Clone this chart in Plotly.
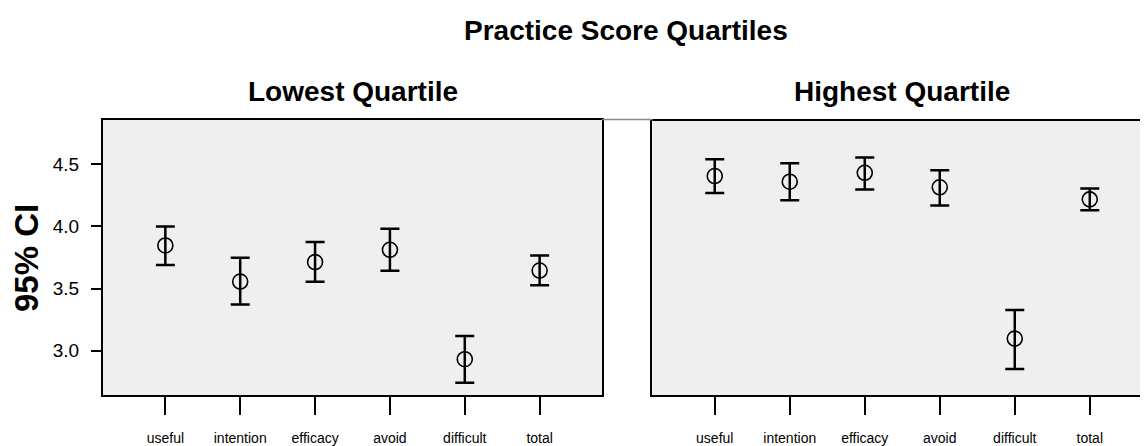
import plotly.graph_objects as go

categories = ["useful", "intention", "efficacy", "avoid", "difficult", "total"]

low_mean = [3.847, 3.556, 3.713, 3.812, 2.931, 3.645]
low_upper = [4.000, 3.748, 3.874, 3.981, 3.119, 3.766]
low_lower = [3.690, 3.371, 3.554, 3.643, 2.742, 3.527]

high_mean = [4.406, 4.360, 4.432, 4.315, 3.097, 4.218]
high_upper = [4.540, 4.508, 4.556, 4.452, 3.328, 4.306]
high_lower = [4.269, 4.210, 4.298, 4.169, 2.852, 4.131]

y_ticks = [3.0, 3.5, 4.0, 4.5]
y_tick_text = ["3.0", "3.5", "4.0", "4.5"]

FONT = "Liberation Sans, Arial, sans-serif"

fig = go.Figure()

def add_panel(mean, upper, lower, xa, ya):
    xs = list(range(len(categories)))
    fig.add_trace(go.Scatter(
        x=xs, y=mean, mode="markers", xaxis=xa, yaxis=ya,
        marker=dict(symbol="circle-open", size=15, color="black", line=dict(width=1.6, color="black")),
        error_y=dict(type="data", symmetric=False,
                     array=[u - m for u, m in zip(upper, mean)],
                     arrayminus=[m - l for m, l in zip(mean, lower)],
                     color="black", thickness=2.5, width=9.5),
        showlegend=False, hoverinfo="skip"))

add_panel(low_mean, low_upper, low_lower, "x", "y")
add_panel(high_mean, high_upper, high_lower, "x2", "y2")

yr = [2.643, 4.857]
common_x = dict(tickmode="array", tickvals=list(range(len(categories))), ticktext=categories,
                ticks="outside", ticklen=18, tickwidth=2, tickcolor="black",
                showgrid=False, zeroline=False, showline=True, linecolor="black", linewidth=2,
                tickfont=dict(family=FONT, size=14, color="black"), ticklabelstandoff=11)

# body of the page has an 8px margin, so the figure is 8px smaller than the window
fig.update_layout(
    width=1140, height=438,
    margin=dict(l=95, r=0, t=112, b=51),
    paper_bgcolor="white", plot_bgcolor="#efefef",
    xaxis=dict(domain=[0, 0.4775], range=[-0.833, 5.833], mirror=True, **common_x),
    xaxis2=dict(domain=[0.5256, 1], range=[-0.833, -0.833 + 495.7 / 75], anchor="y2", **common_x),
    yaxis=dict(range=yr, tickmode="array", tickvals=y_ticks, ticktext=y_tick_text,
               ticks="outside", ticklen=10, tickwidth=2, tickcolor="black",
               showgrid=False, zeroline=False, showline=True, linecolor="black", linewidth=2, mirror=True,
               tickfont=dict(family=FONT, size=19, color="black"), ticklabelstandoff=8),
    yaxis2=dict(range=yr, anchor="x2", showticklabels=False, ticks="",
                showgrid=False, zeroline=False, showline=True, linecolor="black", linewidth=2),
)

# top border of right panel and thin connector line between panels
fig.add_shape(type="line", xref="x2 domain", yref="y2 domain", x0=0, x1=1, y0=1, y1=1,
              line=dict(color="black", width=2))
fig.add_shape(type="line", xref="paper", yref="paper", x0=0.4775, x1=0.5256, y0=1.002, y1=1.002,
              line=dict(color="#888888", width=1.5))

fig.add_annotation(text="<b>Practice Score Quartiles</b>", xref="paper", yref="paper",
                   x=0.5005, y=1.327, showarrow=False, xanchor="center", yanchor="middle",
                   font=dict(family=FONT, size=28, color="black"))
fig.add_annotation(text="<b>Lowest Quartile</b>", xref="paper", yref="paper",
                   x=0.2388, y=1.105, showarrow=False, xanchor="center", yanchor="middle",
                   font=dict(family=FONT, size=28, color="black"))
fig.add_annotation(text="<b>Highest Quartile</b>", xref="paper", yref="paper",
                   x=0.7646, y=1.105, showarrow=False, xanchor="center", yanchor="middle",
                   font=dict(family=FONT, size=28, color="black"))
fig.add_annotation(text="<b>95% CI</b>", xref="paper", yref="paper",
                   x=-0.0737, y=0.498, showarrow=False, textangle=-90, xanchor="center", yanchor="middle",
                   font=dict(family=FONT, size=33, color="black"))

fig.write_html("out.html")
